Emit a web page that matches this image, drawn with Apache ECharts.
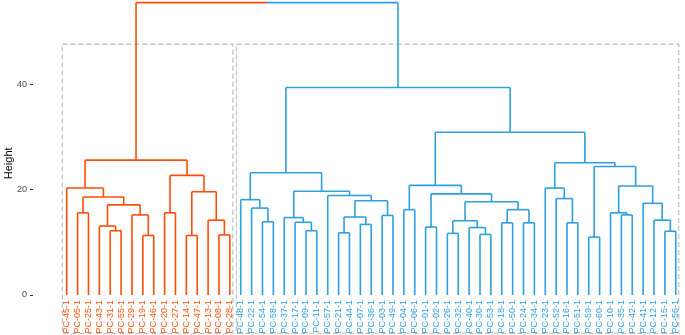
<!DOCTYPE html>
<html>
<head>
<meta charset="utf-8">
<script src="https://cdn.jsdelivr.net/npm/echarts@6/dist/echarts.min.js"></script>
<style>
html, body { margin: 0; padding: 0; background: #fff; }
#dend { width: 685px; height: 335px; }
</style>
</head>
<body>
<div id="dend"></div>
<script>
// leaf order, left to right
var leaves = ['PC-45-1', 'PC-05-1', 'PC-25-1', 'PC-43-1', 'PC-31-1', 'PC-55-1', 'PC-29-1', 'PC-19-1',
    'PC-46-1', 'PC-20-1', 'PC-27-1', 'PC-14-1', 'PC-47-1', 'PC-13-1', 'PC-08-1', 'PC-28-1',
    'PC-48-1', 'PC-22-1', 'PC-54-1', 'PC-58-1', 'PC-37-1', 'PC-17-1', 'PC-09-1', 'PC-11-1',
    'PC-57-1', 'PC-21-1', 'PC-44-1', 'PC-07-1', 'PC-36-1', 'PC-03-1', 'PC-49-1', 'PC-04-1',
    'PC-06-1', 'PC-01-1', 'PC-02-1', 'PC-26-1', 'PC-32-1', 'PC-40-1', 'PC-30-1', 'PC-53-1',
    'PC-18-1', 'PC-50-1', 'PC-24-1', 'PC-34-1', 'PC-23-1', 'PC-52-1', 'PC-16-1', 'PC-51-1',
    'PC-59-1', 'PC-60-1', 'PC-10-1', 'PC-35-1', 'PC-42-1', 'PC-41-1', 'PC-12-1', 'PC-15-1',
    'PC-56-1'];

// merges like hclust: [left, right, height]; strings are leaves, numbers are earlier merge rows (1-based)
var merges = [
    ['PC-31-1', 'PC-55-1', 12.2],  // 1
    ['PC-43-1', 1, 13.1],
    ['PC-19-1', 'PC-46-1', 11.3],
    ['PC-29-1', 3, 15.2],
    [2, 4, 17.1],                  // 5
    ['PC-05-1', 'PC-25-1', 15.6],
    [6, 5, 18.6],
    ['PC-45-1', 7, 20.3],
    ['PC-20-1', 'PC-27-1', 15.6],
    ['PC-14-1', 'PC-47-1', 11.3],  // 10
    ['PC-08-1', 'PC-28-1', 11.4],
    ['PC-13-1', 11, 14.2],
    [10, 12, 19.6],
    [9, 13, 22.7],
    [8, 14, 25.6],                 // 15
    ['PC-54-1', 'PC-58-1', 13.9],
    ['PC-22-1', 16, 16.5],
    ['PC-48-1', 17, 18.1],
    ['PC-09-1', 'PC-11-1', 12.2],
    ['PC-17-1', 19, 13.8],         // 20
    ['PC-37-1', 20, 14.7],
    ['PC-21-1', 'PC-44-1', 11.8],
    ['PC-07-1', 'PC-36-1', 13.4],
    [22, 23, 14.8],
    ['PC-03-1', 'PC-49-1', 15.1],  // 25
    [24, 25, 17.9],
    ['PC-57-1', 26, 18.9],
    [21, 27, 19.7],
    [18, 28, 23.2],
    ['PC-04-1', 'PC-06-1', 16.2],  // 30
    ['PC-01-1', 'PC-02-1', 12.9],
    ['PC-26-1', 'PC-32-1', 11.7],
    ['PC-30-1', 'PC-53-1', 11.5],
    ['PC-40-1', 33, 12.8],
    [32, 34, 14.1],                // 35
    ['PC-18-1', 'PC-50-1', 13.7],
    ['PC-24-1', 'PC-34-1', 13.7],
    [36, 37, 16.2],
    [35, 38, 17.7],
    [31, 39, 19.2],                // 40
    [30, 40, 20.8],
    ['PC-16-1', 'PC-51-1', 13.7],
    ['PC-52-1', 42, 18.3],
    ['PC-23-1', 43, 20.3],
    ['PC-59-1', 'PC-60-1', 11.0],  // 45
    ['PC-35-1', 'PC-42-1', 15.2],
    ['PC-10-1', 46, 15.6],
    ['PC-15-1', 'PC-56-1', 12.1],
    ['PC-12-1', 48, 14.2],
    ['PC-41-1', 49, 17.4],         // 50
    [47, 50, 20.7],
    [45, 51, 24.4],
    [44, 52, 25.1],
    [41, 53, 30.9],
    [29, 54, 39.4],                // 55
    [15, 55, 55.5]
];

var clusterSizes = [16, 41];
var clusterColors = ['#FC4E07', '#2E9FDF'];
var yTicks = [0, 20, 40];

// cluster of each leaf
var leafCluster = [];
clusterSizes.forEach(function (n, c) {
    for (var i = 0; i < n; i++) leafCluster.push(c);
});

// node positions and colours
var nodes = [];
function getNode(ref) {
    if (typeof ref === 'string') {
        var i = leaves.indexOf(ref);
        return { x: i, y: 0, c: leafCluster[i] };
    }
    return nodes[ref - 1];
}
var segs = [];
merges.forEach(function (m) {
    var a = getNode(m[0]), b = getNode(m[1]), h = m[2];
    var x = (a.x + b.x) / 2;
    var c = a.c === b.c ? a.c : -1;
    segs.push([a.x, a.y, a.x, h, a.c]);
    segs.push([b.x, b.y, b.x, h, b.c]);
    if (c >= 0) {
        segs.push([a.x, h, b.x, h, c]);
    } else {
        // root: each half in its child's colour
        segs.push([a.x, h, x, h, a.c]);
        segs.push([x, h, b.x, h, b.c]);
    }
    nodes.push({ x: x, y: h, c: c });
});

// dashed cluster boxes: [from, to, bottom, top]
var boxes = [];
var start = 0;
clusterSizes.forEach(function (n) {
    boxes.push([start - 0.4, start + n - 1 + 0.27, -7.3, 47.6]);
    start += n;
});

var labelData = leaves.map(function (l, i) { return [i, 0, leafCluster[i]]; });

var myChart = echarts.init(document.getElementById('dend'));
var option = {
    animation: false,
    grid: { left: 33, right: 3.8, top: 0, bottom: 8.4, containLabel: false, outerBoundsMode: 'none' },
    xAxis: { type: 'value', min: -3.1, max: 56.5, show: false },
    yAxis: {
        type: 'value', min: -6, max: 56,
        name: 'Height', nameLocation: 'middle', nameGap: 19, nameMoveOverlap: false,
        nameTextStyle: { fontSize: 11, color: '#000', fontFamily: 'Liberation Sans, Arial, sans-serif' },
        axisLine: { show: false, onZero: false },
        splitLine: { show: false },
        axisTick: { show: true, length: 3, customValues: yTicks, lineStyle: { color: '#333' } },
        axisLabel: { customValues: yTicks, margin: 6, fontSize: 9, color: '#4d4d4d',
            fontFamily: 'Liberation Sans, Arial, sans-serif' }
    },
    series: [
        {
            type: 'custom', clip: false, silent: true,
            data: boxes,
            renderItem: function (params, api) {
                var p0 = api.coord([api.value(0), api.value(3)]);
                var p1 = api.coord([api.value(1), api.value(2)]);
                return {
                    type: 'rect',
                    shape: { x: p0[0], y: p0[1], width: p1[0] - p0[0], height: p1[1] - p0[1] },
                    style: { fill: null, stroke: '#c4c4c4', lineWidth: 1.3, lineDash: [5, 3] }
                };
            }
        },
        {
            type: 'custom', silent: true,
            data: segs,
            renderItem: function (params, api) {
                var p0 = api.coord([api.value(0), api.value(1)]);
                var p1 = api.coord([api.value(2), api.value(3)]);
                return {
                    type: 'line',
                    shape: { x1: p0[0], y1: p0[1], x2: p1[0], y2: p1[1] },
                    style: { stroke: clusterColors[api.value(4)], lineWidth: 1.6 }
                };
            }
        },
        {
            type: 'custom', clip: false, silent: true,
            data: labelData,
            renderItem: function (params, api) {
                var p = api.coord([api.value(0), api.value(1)]);
                return {
                    type: 'text',
                    x: p[0], y: p[1] + 5, rotation: Math.PI / 2,
                    style: {
                        text: leaves[params.dataIndex],
                        fill: clusterColors[api.value(2)],
                        fontSize: 9, fontFamily: 'Liberation Sans, Arial, sans-serif',
                        align: 'right', verticalAlign: 'middle'
                    }
                };
            }
        }
    ]
};
myChart.setOption(option);
</script>
</body>
</html>
